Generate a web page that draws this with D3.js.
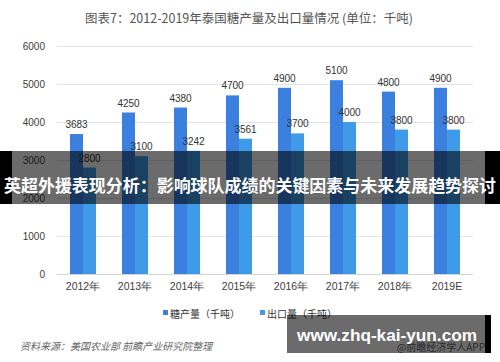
<!DOCTYPE html>
<html lang="zh">
<head>
<meta charset="utf-8">
<script src="https://cdn.jsdelivr.net/npm/d3@7"></script>
<style>
  body { margin: 0; background: #fff; }
  svg { display: block; font-family: "Noto Sans CJK SC", "Liberation Sans", sans-serif; }
</style>
</head>
<body>
<svg id="chart" width="500" height="362"></svg>
<script>
// data (thousand tonnes)
const years = ["2012年", "2013年", "2014年", "2015年", "2016年", "2017年", "2018年", "2019E"]
const production = [3683, 4250, 4380, 4700, 4900, 5100, 4800, 4900]
const exports = [2800, 3100, 3242, 3561, 3700, 4000, 3800, 3800]
const seriesNames = ["糖产量（千吨）", "出口量（千吨）"]
const yTicks = [0, 1000, 2000, 3000, 4000, 5000, 6000]

const colors = ["#3b80de", "#3f9be8"]

const svg = d3.select("#chart")

// title
svg.append("text")
    .attr("x", 249).attr("y", 17)
    .attr("text-anchor", "middle")
    .attr("dominant-baseline", "central")
    .style("font-size", "12.5px")
    .style("fill", "#555")
    .text("图表7：2012-2019年泰国糖产量及出口量情况 (单位：千吨)")

// scales
const x = d3.scaleBand().domain(years).range([57, 473]).paddingInner(0.5).paddingOuter(0.25)
const xSub = d3.scaleBand().domain([0, 1]).range([0, x.bandwidth()])
const y = d3.scaleLinear().domain([0, 6000]).range([274, 46])

// grid
const grid = svg.append("g")
grid.selectAll("line").data(yTicks).enter().append("line")
    .attr("x1", 57).attr("x2", 473)
    .attr("y1", d => y(d) + 0.5).attr("y2", d => y(d) + 0.5)
    .attr("stroke", d => d === 0 ? "#d4d4d4" : "#e3e3e3")

// y axis labels
const yAxis = d3.axisLeft(y).tickValues(yTicks).tickFormat(d => d).tickSize(0).tickPadding(0)
const ya = svg.append("g").attr("transform", "translate(45,0)").call(yAxis)
ya.select(".domain").remove()
ya.selectAll("text").style("font-size", "10px").style("fill", "#404040")
    .style("font-family", "'Liberation Sans', sans-serif")

// x axis labels
const xAxis = d3.axisBottom(x).tickSize(0).tickPadding(0)
const xa = svg.append("g").attr("transform", "translate(0,283)").call(xAxis)
xa.select(".domain").remove()
xa.selectAll("text").style("font-size", "10.5px").style("fill", "#404040")

// bars
const series = [production, exports]
series.forEach((vals, s) => {
    const g = svg.append("g")
    g.selectAll("rect").data(vals).enter().append("rect")
        .attr("x", (d, i) => x(years[i]) + xSub(s))
        .attr("width", xSub.bandwidth())
        .attr("y", d => y(d))
        .attr("height", d => y(0) - y(d))
        .attr("fill", colors[s])
    g.selectAll("text").data(vals).enter().append("text")
        .attr("x", (d, i) => x(years[i]) + xSub(s) + xSub.bandwidth() / 2)
        .attr("y", d => y(d) - 6)
        .attr("text-anchor", "middle")
        .style("font-size", "10px")
        .style("fill", "#333")
        .style("font-family", "'Liberation Sans', sans-serif")
        .text(d => d)
})

// legend
const legendX = [163, 260]
seriesNames.forEach((name, s) => {
    svg.append("rect")
        .attr("x", legendX[s]).attr("y", 310)
        .attr("width", 5).attr("height", 5)
        .attr("fill", colors[s])
    svg.append("text")
        .attr("x", legendX[s] + 7).attr("y", 313)
        .attr("dominant-baseline", "central")
        .style("font-size", "10px")
        .style("fill", "#333")
        .text(name)
})

// source
svg.append("text")
    .attr("x", 20).attr("y", 345)
    .attr("dominant-baseline", "central")
    .style("font-size", "10px")
    .style("font-style", "italic")
    .style("fill", "#666")
    .text("资料来源：美国农业部 前瞻产业研究院整理")

svg.append("text")
    .attr("x", 485).attr("y", 346)
    .attr("text-anchor", "end")
    .attr("dominant-baseline", "central")
    .style("font-size", "10px")
    .style("fill", "#666")
    .text("@前瞻经济学人APP")

// overlay banner across the middle
svg.append("rect").attr("x", 0).attr("y", 151).attr("width", 500).attr("height", 53)
    .attr("fill", "rgba(0,0,0,0.58)")
svg.append("rect").attr("x", 0).attr("y", 151).attr("width", 12).attr("height", 53).attr("fill", "#000")
svg.append("rect").attr("x", 485).attr("y", 151).attr("width", 15).attr("height", 53).attr("fill", "#000")
svg.append("text")
    .attr("x", 250).attr("y", 184)
    .attr("text-anchor", "middle")
    .attr("dominant-baseline", "central")
    .attr("textLength", 492)
    .attr("lengthAdjust", "spacingAndGlyphs")
    .style("font-size", "17.6px")
    .style("font-weight", "bold")
    .style("fill", "#fff")
    .text("英超外援表现分析：影响球队成绩的关键因素与未来发展趋势探讨")

// bottom right url box
svg.append("rect").attr("x", 287).attr("y", 315).attr("width", 198).attr("height", 38)
    .attr("fill", "rgba(0,0,0,0.58)")
svg.append("rect").attr("x", 485).attr("y", 315).attr("width", 6).attr("height", 38).attr("fill", "#000")
svg.append("text")
    .attr("x", 297).attr("y", 341)
    .attr("textLength", 180)
    .attr("lengthAdjust", "spacingAndGlyphs")
    .style("font-family", "'Liberation Sans', sans-serif")
    .style("font-size", "17px")
    .style("font-weight", "bold")
    .style("fill", "#fff")
    .text("www.zhq-kai-yun.com")
</script>
</body>
</html>
